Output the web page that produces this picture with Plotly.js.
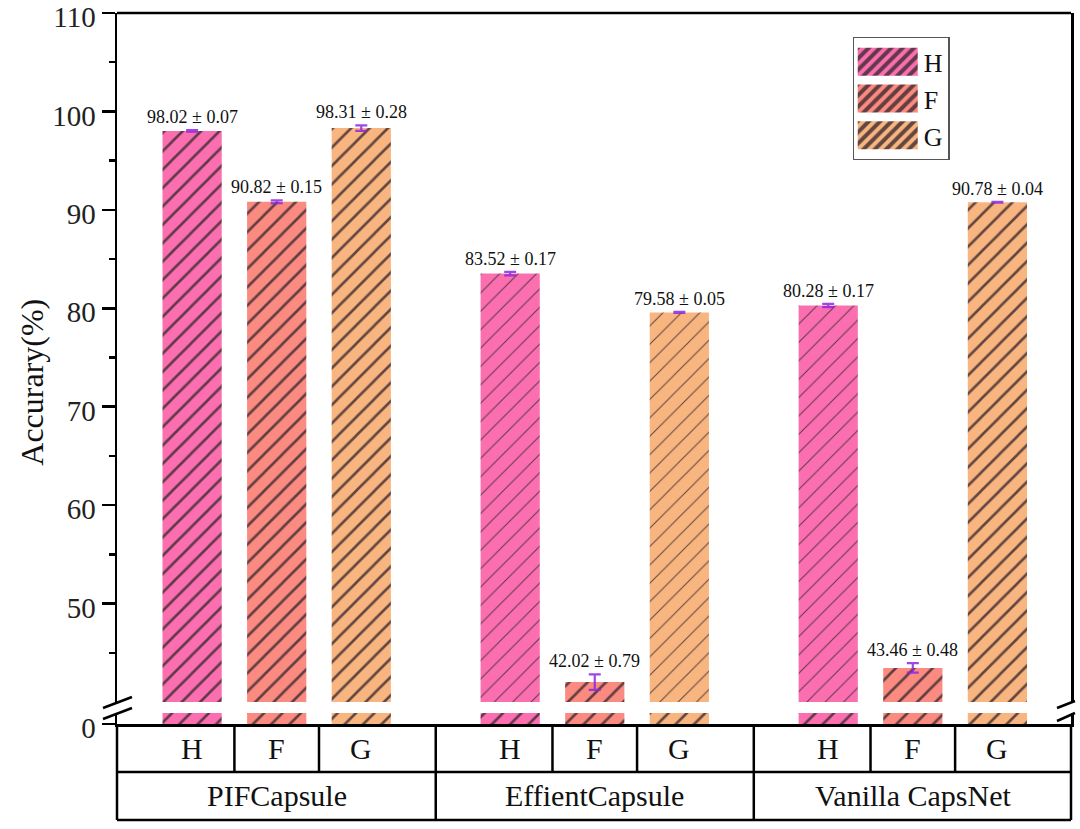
<!DOCTYPE html>
<html>
<head>
<meta charset="utf-8">
<script src="https://cdn.plot.ly/plotly-3.0.1.min.js"></script>
<style>
  html, body { margin: 0; padding: 0; background: #fff; }
  #chart { width: 1080px; height: 829px; }
</style>
</head>
<body>
<div id="chart"></div>
<script>
// data
const groups = ["PIFCapsule", "EffientCapsule", "Vanilla CapsNet"];
const seriesNames = ["H", "F", "G"];
const valuesH = [98.02, 83.52, 80.28];
const valuesF = [90.82, 42.02, 43.46];
const valuesG = [98.31, 79.58, 90.78];
const errH = [0.07, 0.17, 0.17];
const errF = [0.15, 0.79, 0.48];
const errG = [0.28, 0.05, 0.04];
const yTicks = [50, 60, 70, 80, 90, 100, 110];
const yMinorTicks = [45, 55, 65, 75, 85, 95, 105];

// styles
const colors = ["#fb6fb0", "#fb8a80", "#f9b57f"];
const hatchH = [0.2, 0.08, 0.08];
const hatchF = [0.2, 0.2, 0.2];
const hatchG = [0.2, 0.08, 0.2];
const FONT = "Liberation Serif";

const values = [valuesH, valuesF, valuesG];
const errs = [errH, errF, errG];
const hatch = [hatchH, hatchF, hatchG];

// x positions: bar i of group g
const pitch = 3.76;
function xpos(g, i) { return g * pitch + i; }
const xRange = [-0.888, xpos(2, 2) + 0.87];

var traces = [];
seriesNames.forEach(function (name, s) {
  var xs = groups.map(function (_, g) { return xpos(g, s); });
  var pat = {
    shape: "/",
    fillmode: "overlay",
    bgcolor: colors[s],
    fgcolor: "#3b2a30",
    fgopacity: 0.8,
    size: 13,
    solidity: hatch[s]
  };
  traces.push({
    type: "bar",
    name: name,
    x: xs,
    y: values[s],
    width: 0.7,
    xaxis: "x",
    yaxis: "y",
    marker: { color: colors[s], line: { width: 0 }, pattern: pat },
    error_y: {
      type: "data",
      array: errs[s],
      visible: true,
      color: "rgba(140,40,225,0.85)",
      thickness: 2.2,
      width: 6
    }
  });
  traces.push({
    type: "bar",
    name: name,
    showlegend: false,
    x: xs,
    y: values[s],
    width: 0.7,
    xaxis: "x",
    yaxis: "y2",
    marker: {
      color: colors[s],
      line: { width: 0 },
      pattern: Object.assign({}, pat, { solidity: 0.2 })
    }
  });
});

var annotations = [];
// value labels and row labels
seriesNames.forEach(function (name, s) {
  groups.forEach(function (_, g) {
    annotations.push({
      x: xpos(g, s),
      y: values[s][g] + errs[s][g],
      xref: "x",
      yref: "y",
      text: values[s][g].toFixed(2) + " \u00b1 " + errs[s][g].toFixed(2),
      showarrow: false,
      yanchor: "bottom",
      yshift: 1,
      font: { family: FONT, size: 18, color: "#111" }
    });
    annotations.push({
      x: xpos(g, s),
      y: -0.0338,
      xref: "x",
      yref: "paper",
      text: name,
      showarrow: false,
      yanchor: "middle",
      font: { family: FONT, size: 30, color: "#111" }
    });
  });
});
groups.forEach(function (gname, g) {
  annotations.push({
    x: xpos(g, 1),
    y: -0.101,
    xref: "x",
    yref: "paper",
    text: gname,
    showarrow: false,
    yanchor: "middle",
    font: { family: FONT, size: 30, color: "#111" }
  });
});
annotations.push({
  x: 0,
  y: 0.48,
  xref: "paper",
  yref: "paper",
  xanchor: "center",
  yanchor: "middle",
  xshift: -85,
  text: "Accurary(%)",
  textangle: -90,
  showarrow: false,
  font: { family: FONT, size: 32, color: "#111" }
});

// frame / table lines
var line = { color: "#000", width: 2.5 };
var shapes = [
  { type: "line", xref: "paper", yref: "paper", x0: 0, x1: 1, y0: 1, y1: 1, line: line },
  { type: "line", xref: "paper", yref: "paper", x0: 0, x1: 1, y0: -0.0675, y1: -0.0675, line: line },
  { type: "line", xref: "paper", yref: "paper", x0: 0, x1: 1, y0: -0.135, y1: -0.135, line: line },
  { type: "line", xref: "paper", yref: "paper", x0: 0, x1: 0, y0: 0, y1: -0.135, line: line },
  { type: "line", xref: "paper", yref: "paper", x0: 1, x1: 1, y0: 0, y1: -0.135, line: line }
];
for (var g = 0; g < groups.length; g++) {
  if (g > 0) {
    var xb = (xpos(g - 1, 2) + xpos(g, 0)) / 2;
    shapes.push({ type: "line", xref: "x", yref: "paper", x0: xb, x1: xb, y0: 0, y1: -0.135, line: line });
  }
  for (var i = 0; i < 2; i++) {
    var xi = xpos(g, i) + 0.5;
    shapes.push({ type: "line", xref: "x", yref: "paper", x0: xi, x1: xi, y0: 0, y1: -0.0675, line: line });
  }
}
// axis break marks
function slash(ax, x0, x1, y0, y1) {
  return {
    type: "line", xref: "paper", yref: "paper",
    xsizemode: "pixel", xanchor: ax, ysizemode: "pixel", yanchor: 0,
    x0: x0, x1: x1, y0: y0, y1: y1, line: line
  };
}
shapes.push(slash(0, -14, 15, 16, 27));
shapes.push(slash(0, -14, 15, 5, 16));
shapes.push(slash(1, -14, 4, 16, 23));
shapes.push(slash(1, -14, 4, 3, 11));

var tickFont = { family: FONT, size: 29, color: "#222" };

var layout = {
  width: 1080,
  height: 829,
  margin: { l: 117, r: 9, t: 13, b: 105 },
  paper_bgcolor: "#fff",
  plot_bgcolor: "rgba(0,0,0,0)",
  barmode: "overlay",
  showlegend: true,
  legend: {
    x: 0.771, y: 0.966, xanchor: "left", yanchor: "top",
    bgcolor: "#fff", bordercolor: "#555", borderwidth: 1.2,
    font: { family: FONT, size: 26, color: "#111" },
    itemwidth: 60,
    tracegroupgap: 0
  },
  xaxis: {
    anchor: "y2",
    range: xRange,
    showline: true, linecolor: "#000", linewidth: 2.5,
    showticklabels: false, ticks: "", showgrid: false, zeroline: false
  },
  yaxis: {
    domain: [0.031, 1],
    range: [40, 110],
    tickvals: yTicks,
    ticklabeloverflow: "allow",
    ticklabelshift: 4,
    ticks: "outside", ticklen: 13, tickwidth: 2.5, tickcolor: "#000",
    minor: { tickvals: yMinorTicks, ticks: "outside", ticklen: 6, tickwidth: 2.5, tickcolor: "#000" },
    showline: true, linecolor: "#000", linewidth: 2.5, mirror: true,
    showgrid: false, zeroline: false,
    tickfont: tickFont
  },
  yaxis2: {
    domain: [0, 0.0155],
    range: [0, 5],
    tickvals: [0],
    ticklabeloverflow: "allow",
    ticklabelshift: 4,
    ticks: "outside", ticklen: 13, tickwidth: 2.5, tickcolor: "#000",
    showline: true, linecolor: "#000", linewidth: 2.5, mirror: true,
    showgrid: false, zeroline: false,
    tickfont: tickFont
  },
  annotations: annotations,
  shapes: shapes
};

Plotly.newPlot("chart", traces, layout, { displayModeBar: false, staticPlot: true }).then(function () {
  // widen the legend swatches so they look like the original's wide hatched boxes
  document.querySelectorAll(".legend .traces").forEach(function (tr) {
    var p = tr.querySelector(".legendpoints path");
    var t = tr.querySelector("text.legendtext");
    if (!p || !t) return;
    var b = p.getBBox();
    var pr = p.getBoundingClientRect();
    var tl = t.getBoundingClientRect().left;
    var cx = b.x + b.width / 2 + ((tl - 36) - (pr.left + pr.width / 2));
    var cy = b.y + b.height / 2;
    p.setAttribute("d", "M" + (cx - 30) + "," + (cy - 14) + "H" + (cx + 30) + "V" + (cy + 14) + "H" + (cx - 30) + "Z");
  });
});
</script>
</body>
</html>
